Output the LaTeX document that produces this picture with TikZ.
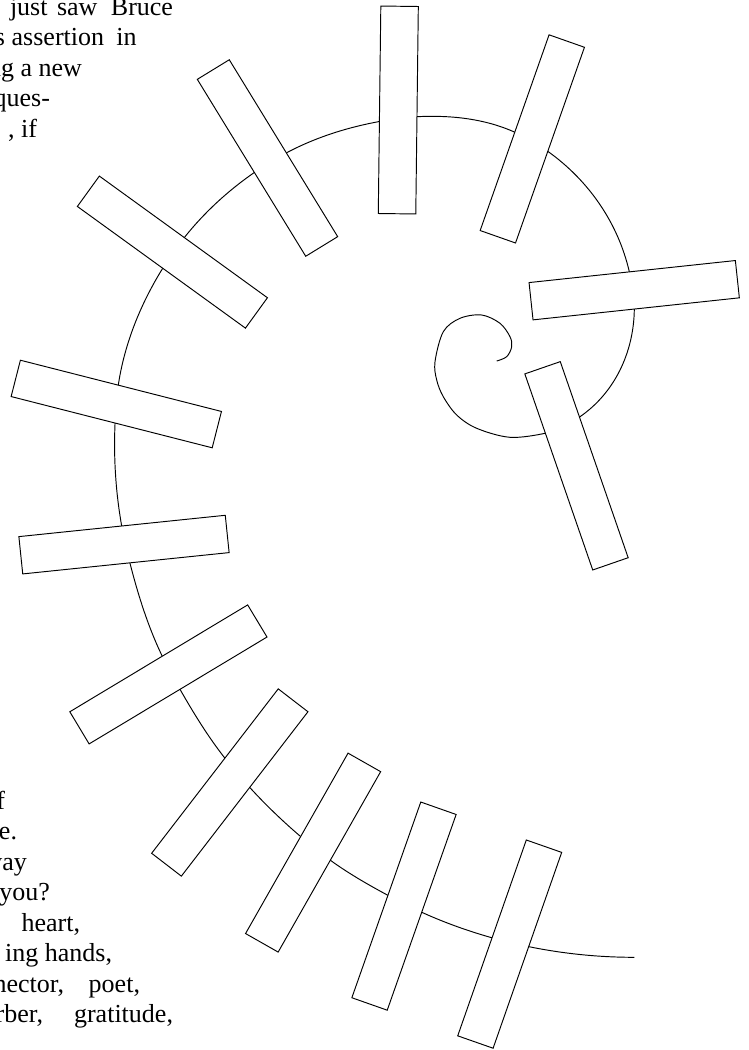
\documentclass[tikz,border=0pt]{standalone}
\usepackage{fontspec}
\setmainfont{Liberation Serif}
\begin{document}
\begin{tikzpicture}[x=1pt,y=-1pt,
  bar/.style={draw=black, fill=white, line width=0.95pt, minimum width=207.5pt,
              minimum height=37.5pt, inner sep=0pt, outer sep=0pt},
  txt/.style={font=\fontsize{26}{30.5}\selectfont, inner sep=0pt, outer sep=0pt, text=black},
  spiral/.style={draw=black, line width=0.95pt, line join=round}]
\useasboundingbox (0,0) rectangle (748,1050);
\clip (0,0) rectangle (748,1050);
% inner curl
\draw[spiral] plot[smooth, tension=0.55] coordinates {
 (496.7,361) (506.7,356.7) (511.7,346.7) (510,336.7) (500,323.3) (481.7,315)
 (460,318.3) (443.3,331.7) (435,361.7) (436.7,380) (443.3,396.7) (456.7,415)
 (476.7,428.3) (510,437.3) (545,433.3) (563,426)};
% outer spiral
\draw[spiral] (545,433.3)
 .. controls +(-15:12.9) and +(145.4:12.9) .. (580,416.7)
 .. controls +(-34.6:42.3) and +(91:42.3) .. (634.3,310)
 .. controls +(-89:12.9) and +(77:12.9) .. (629.3,271.7)
 .. controls +(-103:49.9) and +(35.6:49.9) .. (548.3,151.7)
 .. controls +(-144.4:12.8) and +(24.3:12.8) .. (515,132.3)
 .. controls +(-155.7:33.7) and +(-2.8:33.7) .. (416.7,116.7)
 .. controls +(-182.8:12.9) and +(-10.6:12.9) .. (378.3,121.7)
 .. controls +(-190.6:32.4) and +(-27.9:32.4) .. (286.7,152.7)
 .. controls +(-207.9:12.8) and +(-34.8:12.8) .. (254,172.7)
 .. controls +(-214.8:31.6) and +(-51.3:31.6) .. (185,236.7)
 .. controls +(-231.3:12.9) and +(-58.2:12.9) .. (162.7,268.3)
 .. controls +(-238.2:42.1) and +(-81.4:42.1) .. (118.3,385)
 .. controls +(-261.4:13.1) and +(-87.6:13.1) .. (115,424.3)
 .. controls +(-267.6:34) and +(-100.1:34) .. (121.7,526)
 .. controls +(-280.1:12.7) and +(-104.4:12.7) .. (130,563.3)
 .. controls +(-284.4:32.6) and +(-115.6:32.6) .. (162,655.7)
 .. controls +(-295.6:12.7) and +(-119.7:12.7) .. (180,689.3)
 .. controls +(-299.7:27.5) and +(-128.1:27.5) .. (225,758.3)
 .. controls +(-308.1:12.9) and +(-132.4:12.9) .. (250,787.7)
 .. controls +(-312.4:23.2) and +(-139.4:23.2) .. (300,836)
 .. controls +(-319.4:12.8) and +(-144:12.8) .. (330,860)
 .. controls +(-324:22.4) and +(-151.6:22.4) .. (387.3,895)
 .. controls +(-331.6:13.2) and +(-155.7:13.2) .. (422.7,912.7)
 .. controls +(-335.7:24.5) and +(-164.2:24.5) .. (491.7,937.7)
 .. controls +(-344.2:12.8) and +(-168.5:12.8) .. (529,946.7)
 .. controls +(-348.5:35.4) and +(180:35.4) .. (634.3,957.3);
% bars
\node[bar, rotate=89.3]  (b1)  at (398.3,110)   {};
\node[bar, rotate=70.6]  (b2)  at (532.3,138.9) {};
\node[bar, rotate=6.1]   (b3)  at (634.2,290.2) {};
\node[bar, rotate=-70.9] (b4)  at (576.5,465.8) {};
\node[bar, rotate=-58.5] (b5)  at (267.5,158)   {};
\node[bar, rotate=-35.9] (b6)  at (172.4,252.1) {};
\node[bar, rotate=-14.3] (b7)  at (116.3,404)   {};
\node[bar, rotate=5.9]   (b8)  at (124,544.6)   {};
\node[bar, rotate=31.0]  (b9)  at (168.4,674.4) {};
\node[bar, rotate=52.4]  (b10) at (229.8,782.5) {};
\node[bar, rotate=60.4]  (b11) at (313.1,852.6) {};
\node[bar, rotate=70.6]  (b12) at (404,906.1)   {};
\node[bar, rotate=70.7]  (b13) at (509.7,944.1) {};
% text fragments (clipped paragraph)
\node[txt, anchor=base west] (t1a) at (10,15) {just};
\node[txt, anchor=base west] (t1b) at (57,15) {saw};
\node[txt, anchor=base east] (t1c) at (173,15) {Bruce};
\node[txt, anchor=base east] (t2a) at (5,45.5) {s};
\node[txt, anchor=base west] (t2b) at (11.7,45.5) {assertion};
\node[txt, anchor=base east] (t2c) at (136.7,45.5) {in};
\node[txt, anchor=base east] (t3) at (82,76) {ng a new};
\node[txt, anchor=base east] (t4) at (50,106.5) {ques-};
\node[txt, anchor=base east] (t5) at (37,137) {, if};
\node[txt, anchor=base east] (u1) at (5,809) {f};
\node[txt, anchor=base east] (u2) at (17,839.5) {e.};
\node[txt, anchor=base east] (u3) at (27,870) {way};
\node[txt, anchor=base east] (u4) at (50,900.5) {you?};
\node[txt, anchor=base east] (u5) at (80,931) {heart,};
\node[txt, anchor=base east] (u6) at (112,961.5) {ing hands,};
\node[txt, anchor=base east] (u7a) at (64,992) {nector,};
\node[txt, anchor=base east] (u7b) at (140,992) {poet,};
\node[txt, anchor=base east] (u8a) at (43,1022.5) {rber,};
\node[txt, anchor=base east] (u8b) at (173,1022.5) {gratitude,};
\end{tikzpicture}
\end{document}
